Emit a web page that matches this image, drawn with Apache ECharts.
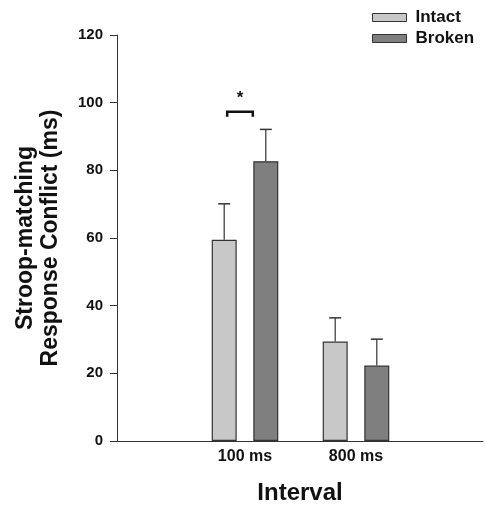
<!DOCTYPE html>
<html>
<head>
<meta charset="utf-8">
<script src="https://cdn.jsdelivr.net/npm/echarts@6/dist/echarts.min.js"></script>
<style>html,body{margin:0;padding:0;background:#fff}#c{width:492px;height:506px}</style>
</head>
<body>
<div id="c"></div>
<script>
const categories = ['100 ms', '800 ms'];
const seriesNames = ['Intact', 'Broken'];
const intactMean = [59.5, 29.4];
const intactErr = [70.1, 36.4];
const brokenMean = [82.7, 22.3];
const brokenErr = [92.1, 30.1];
const yTicks = [0, 20, 40, 60, 80, 100, 120];
const sigPair = { category: 0, level: 97.3, label: '*' };

const FONT = '"Liberation Sans", Arial, sans-serif';
const BAR_W = 25, GAP = 16.6;
const OFF = (BAR_W + GAP) / 2;
const colors = ['#c8c8c8', '#7f7f7f'];

function errSeries(means, tops, offset) {
  return {
    type: 'custom', xAxisIndex: 1, yAxisIndex: 1, z: 1,
    data: means.map((m, i) => [i, m, tops[i]]),
    renderItem: function (params, api) {
      const b = api.coord([api.value(0), api.value(1)]);
      const t = api.coord([api.value(0), api.value(2)]);
      const x = b[0] + offset;
      return { type: 'group', children: [
        { type: 'line', shape: { x1: x, y1: b[1], x2: x, y2: t[1] }, style: { stroke: '#333', lineWidth: 1.2 } },
        { type: 'line', shape: { x1: x - 6, y1: t[1], x2: x + 6, y2: t[1] }, style: { stroke: '#333', lineWidth: 1.5 } }
      ]};
    }
  };
}

const chart = echarts.init(document.getElementById('c'), null, { renderer: 'canvas' });
chart.setOption({
  animation: false,
  backgroundColor: '#fff',
  grid: [
    { left: 117, right: 9, top: 35, bottom: 65, containLabel: false, outerBoundsMode: 'none' },
    { left: 189.5, right: 80.5, top: 35, bottom: 65, containLabel: false, outerBoundsMode: 'none' }
  ],
  legend: {
    orient: 'vertical', left: 367, top: 4, itemWidth: 34, itemHeight: 8, itemGap: 4,
    icon: 'rect',
    data: seriesNames,
    textStyle: { fontFamily: FONT, fontWeight: 'bold', fontSize: 17, color: '#111', padding: [0, 0, 0, 4] },
    itemStyle: { borderColor: '#333', borderWidth: 1 }
  },
  xAxis: [
    { type: 'value', gridIndex: 0, min: 0, max: 1, axisLine: { show: true, onZero: false, lineStyle: { color: '#333', width: 1 } },
      axisTick: { show: false }, axisLabel: { show: false }, splitLine: { show: false },
      name: 'Interval', nameLocation: 'middle', nameGap: 40,
      nameTextStyle: { fontFamily: FONT, fontWeight: 'bold', fontSize: 24, color: '#111' } },
    { type: 'category', gridIndex: 1, data: categories,
      axisLine: { show: false }, axisTick: { show: false },
      axisLabel: { margin: 8, fontFamily: FONT, fontWeight: 'bold', fontSize: 16, color: '#111' } }
  ],
  yAxis: [
    { type: 'value', gridIndex: 0, min: 0, max: 120, interval: 20,
      axisLine: { show: true, lineStyle: { color: '#333', width: 1 } },
      axisTick: { show: true, length: 7, lineStyle: { color: '#333' } },
      axisLabel: { margin: 14, fontFamily: FONT, fontWeight: 'bold', fontSize: 15, color: '#111',
        formatter: v => yTicks.includes(v) ? String(v) : '' },
      splitLine: { show: false },
      name: 'Stroop-matching\nResponse Conflict (ms)', nameLocation: 'middle', nameGap: 54, nameRotate: 90,
      nameTextStyle: { fontFamily: FONT, fontWeight: 'bold', fontSize: 23, color: '#111', lineHeight: 25 } },
    { type: 'value', gridIndex: 1, min: 0, max: 120, show: false }
  ],
  series: [
    { name: 'Intact', type: 'bar', xAxisIndex: 1, yAxisIndex: 1, data: intactMean, barWidth: BAR_W, barGap: (GAP / BAR_W * 100).toFixed(1) + '%',
      itemStyle: { color: colors[0], borderColor: '#333', borderWidth: 1.2 }, z: 2 },
    { name: 'Broken', type: 'bar', xAxisIndex: 1, yAxisIndex: 1, data: brokenMean, barWidth: BAR_W,
      itemStyle: { color: colors[1], borderColor: '#333', borderWidth: 1.2 }, z: 2 },
    errSeries(intactMean, intactErr, -OFF),
    errSeries(brokenMean, brokenErr, OFF),
    { type: 'custom', xAxisIndex: 1, yAxisIndex: 1, z: 3,
      data: [[sigPair.category, sigPair.level]],
      renderItem: function (params, api) {
        const p = api.coord([api.value(0), api.value(1)]);
        const x1 = p[0] - OFF + 3, x2 = p[0] + OFF - 13;
        return { type: 'group', children: [
          { type: 'polyline', shape: { points: [[x1, p[1] + 5], [x1, p[1]], [x2, p[1]], [x2, p[1] + 5]] },
            style: { stroke: '#111', lineWidth: 2.5, fill: null } },
          { type: 'text', style: { text: sigPair.label, x: (x1 + x2) / 2, y: p[1] - 5, align: 'center', verticalAlign: 'bottom',
            font: 'bold 17px ' + FONT, fill: '#111' } }
        ]};
      } }
  ]
});
</script>
</body>
</html>
